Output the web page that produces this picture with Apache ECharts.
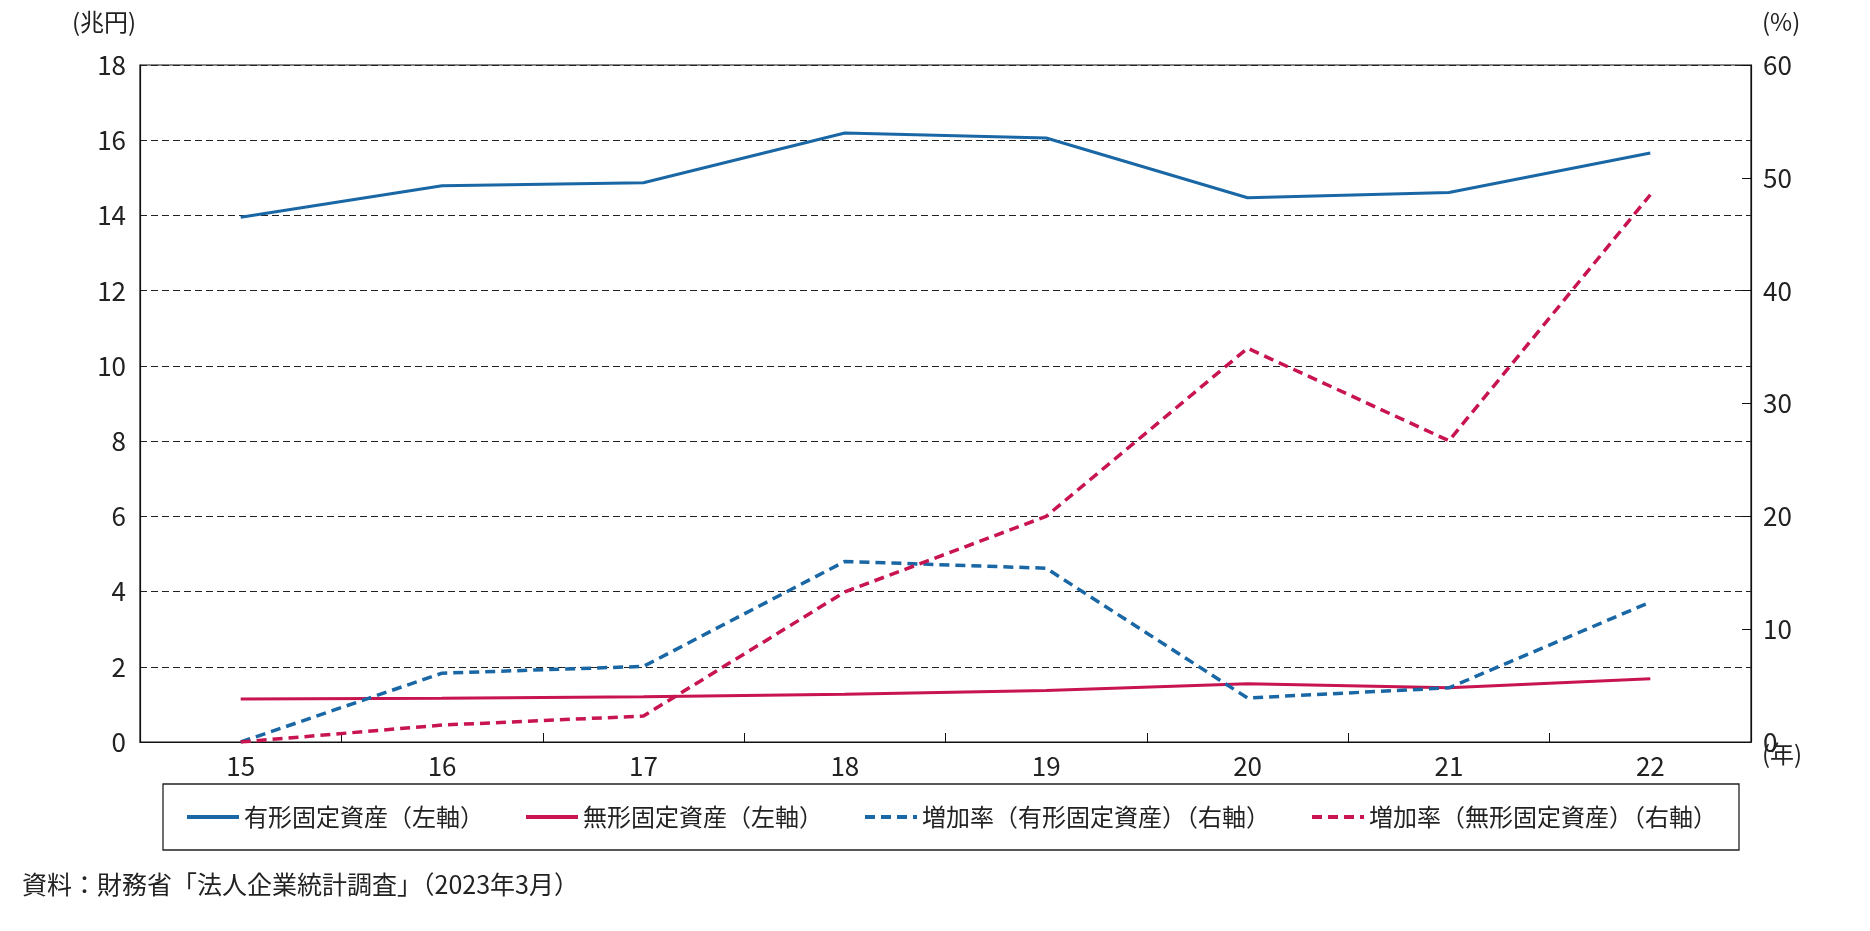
<!DOCTYPE html>
<html>
<head>
<meta charset="utf-8">
<script src="https://cdn.jsdelivr.net/npm/echarts@6/dist/echarts.min.js"></script>
<style>
html,body{margin:0;padding:0;background:#fff;}
#main{width:1870px;height:931px;}
</style>
</head>
<body>
<div id="main"></div>
<script>
const categories = ['15','16','17','18','19','20','21','22'];
const tangible = [13.95, 14.79, 14.87, 16.19, 16.06, 14.47, 14.61, 15.66];
const intangible = [1.14, 1.16, 1.2, 1.27, 1.37, 1.55, 1.44, 1.68];
const tangibleRate = [0, 6.1, 6.7, 16.0, 15.4, 3.9, 4.8, 12.4];
const intangibleRate = [0, 1.5, 2.3, 13.3, 20.0, 34.9, 26.7, 48.5];
const seriesNames = ['有形固定資産（左軸）','無形固定資産（左軸）','増加率（有形固定資産）（右軸）','増加率（無形固定資産）（右軸）'];
const leftTicks = {min:0, max:18, interval:2};
const rightTicks = {min:0, max:60, interval:10};

const BLUE = '#1a67a5';
const RED = '#c8144f';
const FONT = '"Noto Sans CJK JP", "Noto Sans", sans-serif';

const chart = echarts.init(document.getElementById('main'), null, {renderer:'canvas'});
chart.setOption({
  backgroundColor:'#fff',
  animation:false,
  textStyle:{fontFamily:FONT},
  grid:{left:140, right:119, top:65, bottom:189, show:true, borderColor:'#111', borderWidth:1.2, backgroundColor:'transparent'},
  legend:{
    left:163, top:784,
    padding:[21,22,21,22],
    borderColor:'#222', borderWidth:1.3,
    itemWidth:52, itemHeight:14, itemGap:40,
    itemStyle:{opacity:0},
    lineStyle:{width:4},
    textStyle:{fontSize:24, color:'#222', fontFamily:FONT},
    data:seriesNames
  },
  graphic:[
    {type:'text', left:72, top:10, style:{text:'(兆円)', fontSize:24, fill:'#222', fontFamily:FONT}},
    {type:'text', left:1762, top:10, style:{text:'(%)', fontSize:24, fill:'#222', fontFamily:FONT}},
    {type:'text', left:1762, top:742, style:{text:'(年)', fontSize:24, fill:'#222', fontFamily:FONT}},
    {type:'text', left:22, top:872, style:{text:'資料：財務省「法人企業統計調査」（2023年3月）', fontSize:25, fill:'#222', fontFamily:FONT}}
  ],
  xAxis:{
    type:'category', data:categories, boundaryGap:true,
    axisLine:{show:true, lineStyle:{color:'#111', width:1.2}},
    axisTick:{show:true, inside:true, length:9, interval:0, lineStyle:{color:'#111'}},
    axisLabel:{fontSize:26, color:'#222', margin:11, fontFamily:FONT},
    splitLine:{show:false}
  },
  yAxis:[
    {type:'value', min:leftTicks.min, max:leftTicks.max, interval:leftTicks.interval, position:'left',
     axisLine:{show:true, lineStyle:{color:'#111', width:1.2}},
     axisTick:{show:false},
     axisLabel:{fontSize:26, color:'#222', margin:14, fontFamily:FONT},
     splitLine:{show:true, lineStyle:{color:'#222', width:1, type:[7,4]}}
    },
    {type:'value', min:rightTicks.min, max:rightTicks.max, interval:rightTicks.interval, position:'right',
     axisLine:{show:true, lineStyle:{color:'#111', width:1.2}},
     axisTick:{show:true, inside:true, length:9, lineStyle:{color:'#111'}},
     axisLabel:{fontSize:26, color:'#222', margin:12, fontFamily:FONT},
     splitLine:{show:false}
    }
  ],
  series:[
    {name:seriesNames[0], type:'line', yAxisIndex:0, data:tangible, symbol:'none', color:BLUE,
     lineStyle:{color:BLUE, width:3}},
    {name:seriesNames[1], type:'line', yAxisIndex:0, data:intangible, symbol:'none', color:RED,
     lineStyle:{color:RED, width:3}},
    {name:seriesNames[2], type:'line', yAxisIndex:1, data:tangibleRate, symbol:'none', color:BLUE,
     lineStyle:{color:BLUE, width:3.5, type:[10,6]}},
    {name:seriesNames[3], type:'line', yAxisIndex:1, data:intangibleRate, symbol:'none', color:RED,
     lineStyle:{color:RED, width:3.5, type:[10,6]}}
  ]
});
</script>
</body>
</html>
